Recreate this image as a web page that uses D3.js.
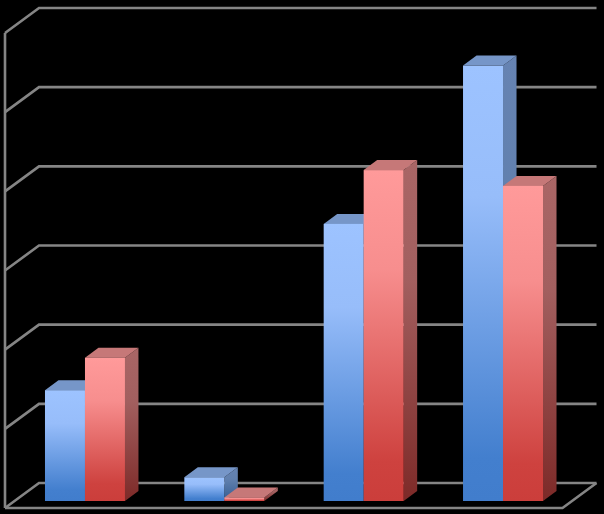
<!DOCTYPE html>
<html>
<head>
<meta charset="utf-8">
<script src="https://cdn.jsdelivr.net/npm/d3@7"></script>
<style>
  html, body { margin: 0; padding: 0; background: #000; }
  svg { display: block; }
</style>
</head>
<body>
<svg id="chart" width="604" height="514"></svg>
<script>
// the reference shows no labels, so the category names stay internal
const categories = ["A", "B", "C", "D"];
const seriesNames = ["blue", "red"];
const blueValues = [1.40, 0.30, 3.50, 5.50];
const redValues = [1.81, 0.045, 4.18, 3.98];
const gridValues = [0, 1, 2, 3, 4, 5, 6];

const W = 604, H = 514;
const depthX = 13.5, depthY = 10;   // bar depth
const wallDX = 34, wallDY = 25;     // floor depth

const svg = d3.select("#chart");
svg.append("rect").attr("width", W).attr("height", H).attr("fill", "#000");

const x = d3.scaleBand()
  .domain(categories)
  .range([15.3, 572.7])
  .paddingInner(0.426)
  .paddingOuter(0.213);

const xSeries = d3.scaleBand()
  .domain(seriesNames)
  .range([0, x.bandwidth()]);

const y = d3.scaleLinear().domain([0, 6]).range([501, 26]);

// wall / floor sit at fixed offsets from the bar plane
const yBack = v => y(v) - 18;
const yFront = v => y(v) + 7;
const xFrontL = 5, xBackL = xFrontL + wallDX;
const xFrontR = 562.5, xBackR = xFrontR + wallDX;

// ---- gradients
const defs = svg.append("defs");
function gradient(id, stops) {
  const g = defs.append("linearGradient")
    .attr("id", id)
    .attr("x1", 0).attr("y1", 0).attr("x2", 0).attr("y2", 1);
  stops.forEach(s => g.append("stop").attr("offset", s[0]).attr("stop-color", s[1]));
}
gradient("front-blue", [[0, "#9dc3ff"], [0.3, "#97bdfa"], [0.9, "#437fce"], [1, "#417dcc"]]);
gradient("front-red", [[0, "#ff9a9a"], [0.3, "#f78e8e"], [0.88, "#ce423f"], [1, "#cb3e3b"]]);
gradient("side-blue", [[0, "#6683b2"], [0.35, "#6180ae"], [1, "#335c92"]]);
gradient("side-red", [[0, "#a96666"], [0.35, "#a25f5f"], [1, "#7d2a28"]]);

const colors = {
  blue: { front: "url(#front-blue)", side: "url(#side-blue)", top: "#7696c8" },
  red: { front: "url(#front-red)", side: "url(#side-red)", top: "#c67878" }
};

// ---- walls
const grid = "#858585";
const walls = svg.append("g")
  .attr("fill", "none")
  .attr("stroke", grid)
  .attr("stroke-width", 2.6);

walls.selectAll("path.gridline")
  .data(gridValues)
  .join("path")
  .attr("class", "gridline")
  .attr("d", v => d3.line()([
    [xFrontL, yFront(v)],
    [xBackL, yBack(v)],
    [xBackR, yBack(v)]
  ]));

walls.append("line")
  .attr("x1", xFrontL).attr("x2", xFrontL)
  .attr("y1", yFront(6)).attr("y2", yFront(0));

walls.append("path")
  .attr("d", d3.line()([
    [xFrontL, yFront(0)],
    [xFrontR, yFront(0)],
    [xBackR, yBack(0)]
  ]));

// ---- bars
const rows = categories.flatMap((c, i) => [
  { category: c, series: "blue", value: blueValues[i] },
  { category: c, series: "red", value: redValues[i] }
]);

const bars = svg.selectAll("g.bar")
  .data(rows)
  .join("g")
  .attr("class", "bar");

function bounds(d) {
  const x0 = x(d.category) + xSeries(d.series);
  return { x0, x1: x0 + xSeries.bandwidth(), y0: y(d.value), y1: y(0) };
}

bars.append("path")
  .attr("fill", d => colors[d.series].side)
  .attr("d", d => {
    const b = bounds(d);
    return d3.line()([
      [b.x1, b.y0], [b.x1 + depthX, b.y0 - depthY],
      [b.x1 + depthX, b.y1 - depthY], [b.x1, b.y1]
    ]) + "Z";
  });

bars.append("path")
  .attr("fill", d => colors[d.series].top)
  .attr("d", d => {
    const b = bounds(d);
    return d3.line()([
      [b.x0, b.y0], [b.x0 + depthX, b.y0 - depthY],
      [b.x1 + depthX, b.y0 - depthY], [b.x1, b.y0]
    ]) + "Z";
  });

bars.append("rect")
  .attr("x", d => bounds(d).x0)
  .attr("y", d => bounds(d).y0)
  .attr("width", xSeries.bandwidth())
  .attr("height", d => y(0) - y(d.value))
  .attr("fill", d => colors[d.series].front);
</script>
</body>
</html>
